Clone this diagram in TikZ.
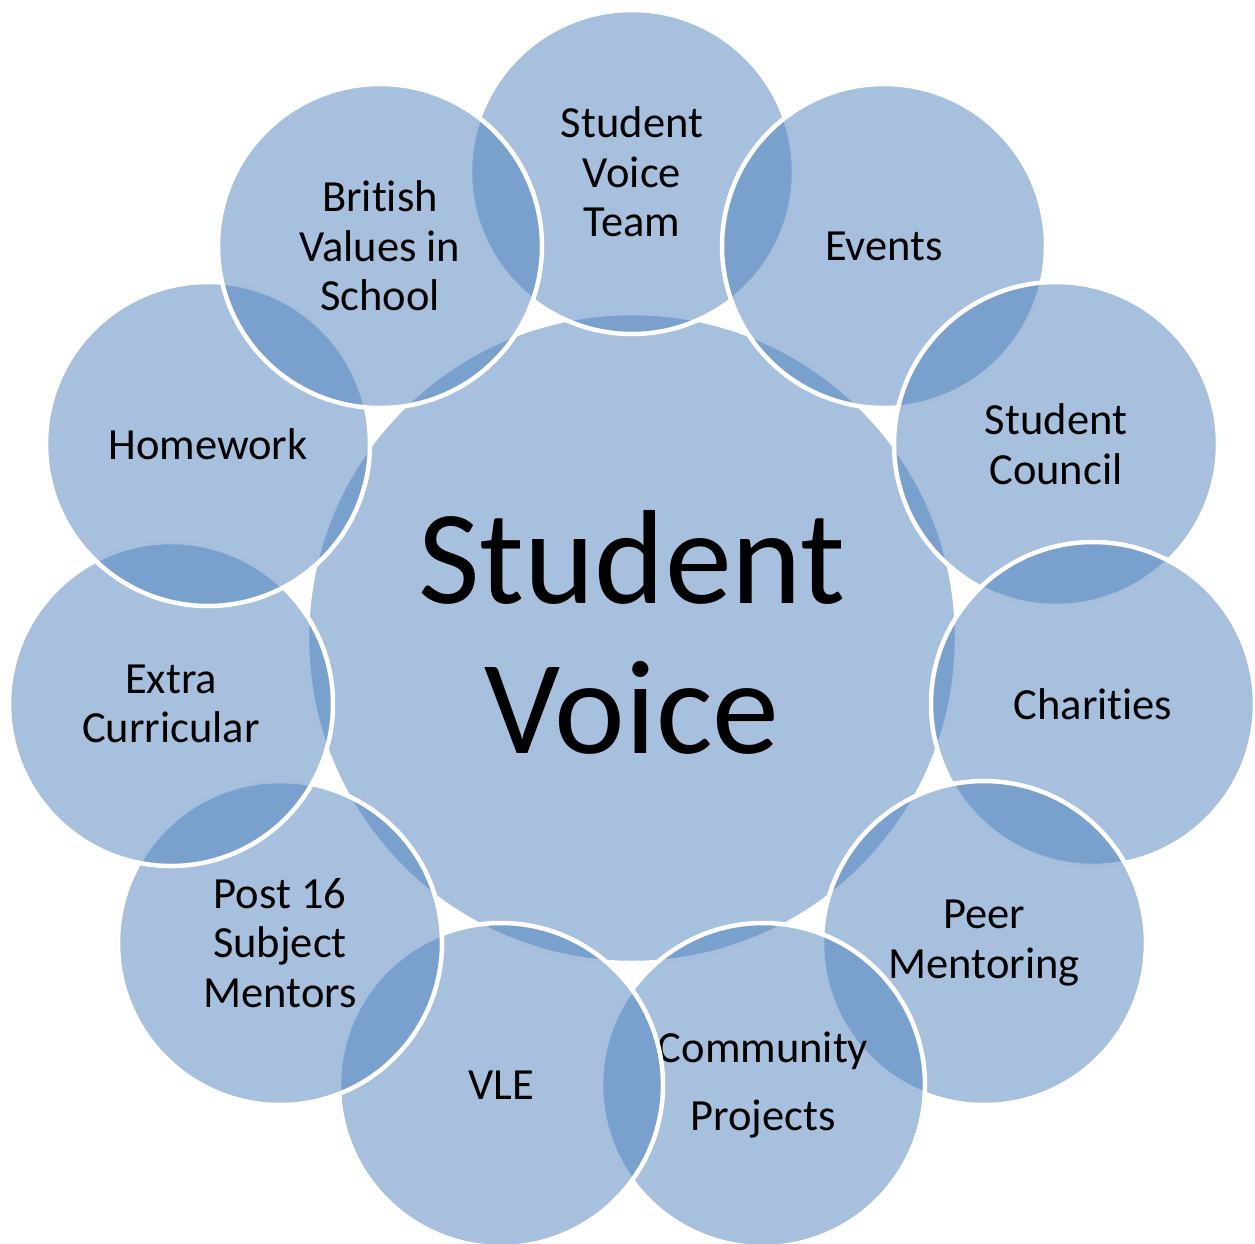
\documentclass[tikz,border=0pt]{standalone}
\usepackage{fontspec}
\setmainfont[Ligatures={NoCommon,NoContextual},Contextuals={NoAlternate}]{Carlito}
\definecolor{accent}{HTML}{4F81BD}
\tikzset{
  bub/.style={circle, minimum size=324pt, inner sep=0pt, fill=accent, fill opacity=0.5,
    text opacity=1, draw=white, line width=4.5pt, align=center, text=black,
    font=\fontsize{44.5}{49.5}\selectfont},
  hub/.style={circle, minimum size=650pt, inner sep=0pt, fill=accent, fill opacity=0.5,
    draw=white, line width=4.5pt},
  hubtext/.style={align=center, text=black, inner sep=0pt,
    font=\fontsize{134}{150}\selectfont}
}
\begin{document}
\begin{tikzpicture}[x=1pt,y=-1pt]
\useasboundingbox (0,0) rectangle (1255,1243);
\node[hub] (c) at (632,638) {};
\node[hubtext] (ct) at (632,632) {Student\\Voice};
\node[bub] (n0) at (632,172) {Student\\Voice\\Team};
\node[bub] (n1) at (884,246) {Events};
\node[bub] (n2) at (1056,444) {Student\\Council};
\node[bub] (n3) at (1093,704) {Charit\kern0pt ies};
\node[bub] (n4) at (984,943) {Peer\\Mentoring};
\node[bub] (n5) at (763,1085) {Community\\[18.5pt]Projects};
\node[bub] (n6) at (501,1085) {VLE};
\node[bub] (n7) at (280,943) {Post 16\\Subject\\Mentors};
\node[bub] (n8) at (171,704) {Extra\\Curricular};
\node[bub] (n9) at (208,444) {Homework};
\node[bub] (n10) at (380,246) {Brit\kern0pt ish\\Values in\\School};
\end{tikzpicture}
\end{document}
